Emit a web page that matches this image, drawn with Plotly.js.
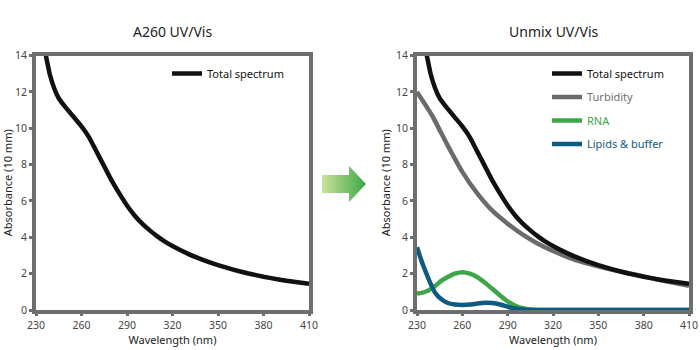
<!DOCTYPE html>
<html>
<head>
<meta charset="utf-8">
<script src="https://cdn.plot.ly/plotly-3.0.1.min.js"></script>
<style>html,body{margin:0;padding:0;background:#fff;}#chart{width:700px;height:350px;}</style>
</head>
<body>
<div id="chart"></div>
<script>
// ---- data ----
const wavelengthTotal = [236.5, 239, 242, 245, 249, 255, 260, 265, 270, 275, 280, 285, 290, 295, 300, 305, 310, 315, 320, 330, 340, 350, 360, 370, 380, 390, 400, 410];
const totalSpectrum   = [14.0, 13.0, 12.2, 11.65, 11.2, 10.6, 10.1, 9.5, 8.7, 7.9, 7.1, 6.4, 5.75, 5.2, 4.75, 4.38, 4.05, 3.76, 3.52, 3.1, 2.76, 2.47, 2.22, 2.01, 1.83, 1.68, 1.55, 1.44];

const wavelengthTurb = [230, 240, 250, 260, 270, 280, 290, 300, 310, 320, 330, 340, 350, 360, 370, 380, 390, 400, 410];
const turbidity      = [12.0, 10.7, 9.1, 7.6, 6.4, 5.45, 4.75, 4.15, 3.65, 3.25, 2.9, 2.62, 2.4, 2.2, 2.02, 1.85, 1.66, 1.49, 1.33];

const wavelengthComp = [230, 233, 236, 239, 242, 246, 250, 255, 260, 265, 270, 275, 280, 285, 290, 295, 300, 305, 310, 320, 340, 360, 380, 410];
const rna            = [0.9, 0.94, 1.02, 1.15, 1.32, 1.6, 1.8, 2.0, 2.08, 2.0, 1.8, 1.5, 1.15, 0.8, 0.47, 0.23, 0.1, 0.03, 0.0, 0.0, 0.0, 0.0, 0.0, 0.0];
const lipidsBuffer   = [3.45, 2.7, 2.05, 1.45, 0.95, 0.6, 0.4, 0.3, 0.28, 0.3, 0.36, 0.4, 0.38, 0.3, 0.18, 0.08, 0.03, 0.0, 0.0, 0.0, 0.0, 0.0, 0.0, 0.0];

const xTickVals = [230, 260, 290, 320, 350, 380, 410];
const yTickVals = [0, 2, 4, 6, 8, 10, 12, 14];
const panelTitles = ['A260 UV/Vis', 'Unmix UV/Vis'];
const xTitle = 'Wavelength (nm)';
const yTitle = 'Absorbance (10 mm)';

// ---- styles ----
const FONT = 'Noto Sans, DejaVu Sans, sans-serif';
const FRAME = '#6e6e6e';
const C_TOTAL = '#111111', C_TURB = '#6b6b6b', C_RNA = '#3ea548', C_LIP = '#0f5a80';

function lineTrace(x, y, name, color, xa, ya, legend, group, textColor) {
  return {
    x: x, y: y, type: 'scatter', mode: 'lines',
    name: '<span style="color:' + textColor + '">' + name + '</span>',
    line: {color: color, width: 4.5, shape: 'spline', smoothing: 0.4},
    xaxis: xa, yaxis: ya, legend: legend, legendgroup: group,
    hoverinfo: 'skip'
  };
}

const traces = [
  lineTrace(wavelengthTotal, totalSpectrum, 'Total spectrum', C_TOTAL, 'x', 'y', 'legend', 'a', '#111'),
  lineTrace(wavelengthTurb, turbidity, 'Turbidity', C_TURB, 'x2', 'y2', 'legend2', 'b', '#707070'),
  lineTrace(wavelengthComp, rna, 'RNA', C_RNA, 'x2', 'y2', 'legend2', 'c', C_RNA),
  lineTrace(wavelengthComp, lipidsBuffer, 'Lipids &amp; buffer', C_LIP, 'x2', 'y2', 'legend2', 'd', C_LIP),
  lineTrace(wavelengthTotal, totalSpectrum, 'Total spectrum', C_TOTAL, 'x2', 'y2', 'legend2', 'a', '#111')
];
traces[4].legendrank = 1; traces[1].legendrank = 2; traces[2].legendrank = 3; traces[3].legendrank = 4;

function xAxis(domain, anchor) {
  return {
    domain: domain, anchor: anchor, range: [230, 410], tickvals: xTickVals,
    showline: true, mirror: true, linecolor: FRAME, linewidth: 4,
    ticks: 'outside', ticklen: 2, tickwidth: 3, tickcolor: FRAME,
    showgrid: false, zeroline: false,
    tickfont: {family: FONT, size: 10.5, color: '#444'},
    title: {text: xTitle, font: {family: FONT, size: 11, color: '#222'}, standoff: 0}
  };
}
function yAxis(anchor) {
  return {
    domain: [0.1143, 0.8414], anchor: anchor, range: [0, 14], tickvals: yTickVals,
    showline: true, mirror: true, linecolor: FRAME, linewidth: 4,
    ticks: 'outside', ticklen: 3, tickwidth: 3, tickcolor: FRAME,
    showgrid: false, zeroline: false,
    tickfont: {family: FONT, size: 10.5, color: '#444'},
    title: {text: yTitle, font: {family: FONT, size: 11, color: '#222'}, standoff: 4}
  };
}

const arrowSvg = '<svg xmlns="http://www.w3.org/2000/svg" width="44" height="36" viewBox="0 0 44 36">' +
  '<defs><linearGradient id="g" x1="0" y1="0" x2="1" y2="0">' +
  '<stop offset="0" stop-color="#c6e39c"/><stop offset="1" stop-color="#3fa845"/></linearGradient></defs>' +
  '<path d="M0 9 L27 9 L27 0 L44 18 L27 36 L27 27 L0 27 Z" fill="url(#g)"/></svg>';

const layout = {
  width: 700, height: 350,
  margin: {l: 0, r: 0, t: 0, b: 0},
  paper_bgcolor: '#fff', plot_bgcolor: '#fff',
  font: {family: FONT, color: '#222'},
  showlegend: true,
  xaxis: xAxis([36/700, 309/700], 'y'),
  yaxis: yAxis('x'),
  xaxis2: xAxis([417/700, 689/700], 'y2'),
  yaxis2: yAxis('x2'),
  legend: {x: 167/700, y: (350 - 59) / 350, xanchor: 'left', yanchor: 'top', bgcolor: 'rgba(0,0,0,0)',
           font: {family: FONT, size: 11}, tracegroupgap: 4.5},
  legend2: {x: 547/700, y: (350 - 59) / 350, xanchor: 'left', yanchor: 'top', bgcolor: 'rgba(0,0,0,0)',
            font: {family: FONT, size: 11}, tracegroupgap: 4.5},
  annotations: panelTitles.map((t, i) => ({
    text: t, xref: (i === 0 ? 'x domain' : 'x2 domain'), x: 0.5, yref: 'paper', y: (350 - 32) / 350,
    xanchor: 'center', yanchor: 'middle', showarrow: false,
    font: {family: FONT, size: 14, color: '#222'}
  })),
  images: [{
    source: 'data:image/svg+xml;base64,' + btoa(arrowSvg),
    xref: 'paper', yref: 'paper', x: 322/700, y: (350 - 166) / 350,
    sizex: 44/700, sizey: 36/350, xanchor: 'left', yanchor: 'top', sizing: 'stretch', layer: 'above'
  }]
};

Plotly.newPlot('chart', traces, layout, {displayModeBar: false, staticPlot: true});
</script>
</body>
</html>
